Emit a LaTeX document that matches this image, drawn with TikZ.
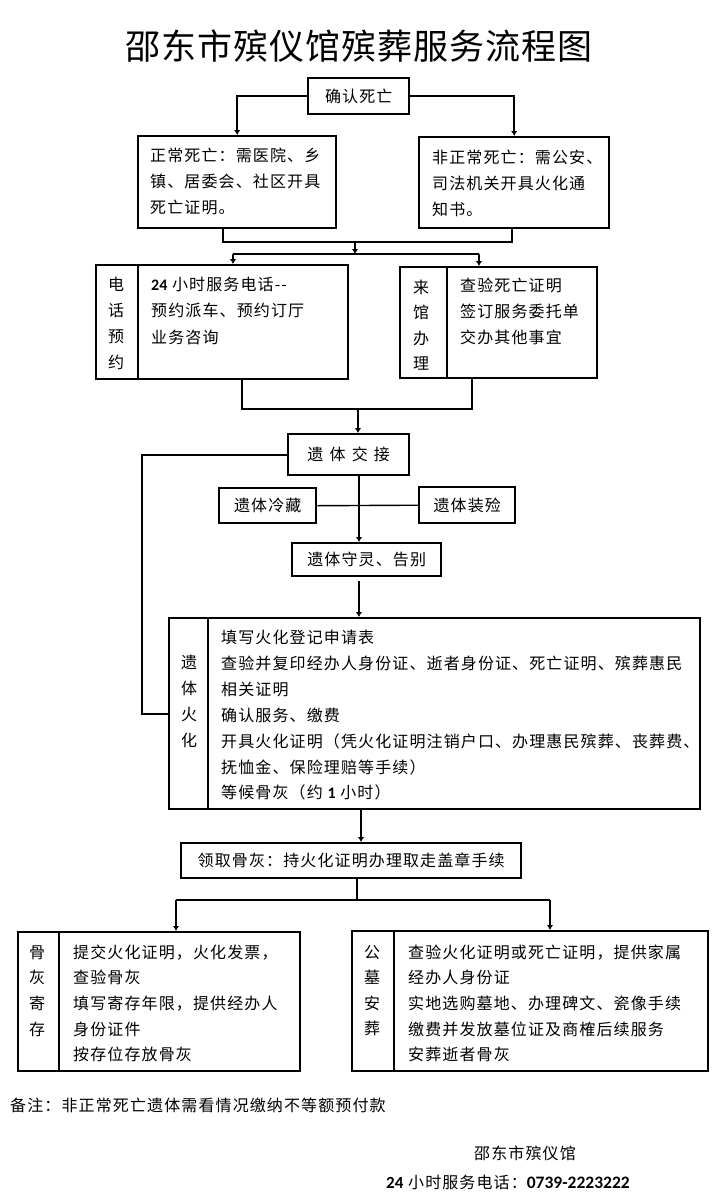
\documentclass[tikz,border=0pt]{standalone}
\usepackage{fontspec}
\setmainfont{Carlito}
\newfontfamily\cjk[LetterSpace=7]{Noto Sans CJK SC}
\newfontfamily\titlefont[LetterSpace=3]{Noto Sans CJK SC}
\newfontfamily\latin{Carlito}
\usetikzlibrary{arrows.meta}
\newcommand\linesat[6]{%
  \foreach \lntxt [count=\i from 0] in {#6}{%
    \node[txt,anchor=#2] (#1\i) at ({#3},{#4+\i*#5}) {\lntxt};}}
\tikzset{
  txt/.style={inner sep=0pt, font=\cjk\fontsize{16}{20}\selectfont, text height=14pt, text depth=2pt},
  box/.style={draw, line width=2.4pt, inner sep=0pt, anchor=north west, font=\cjk\fontsize{16}{20}\selectfont, text height=14pt, text depth=2pt},
  conn/.style={line width=2.2pt},
  thinconn/.style={line width=1.4pt},
  arr/.style={conn, -{Latex[length=5pt,width=6.5pt]}},
}
\begin{document}
\begin{tikzpicture}[x=1pt,y=-1pt]
\fill[white] (0,0) rectangle (722,1203);
\useasboundingbox (0,0) rectangle (722,1203);

% title
\node[inner sep=0pt, font=\titlefont\fontsize{35}{40}\selectfont, text height=30.8pt, text depth=4.2pt] (title) at (359,46) {邵东市殡仪馆殡葬服务流程图};

% boxes
\node[box, minimum width=101pt, minimum height=36pt] (confirm) at (307,77) {确认死亡};
\node[box, minimum width=198pt, minimum height=92pt] (normal) at (137,135) {};
\node[box, minimum width=190pt, minimum height=91pt] (abnormal) at (418,136) {};
\linesat{nt}{west}{150}{155}{26}{正常死亡：需医院、乡,镇、居委会、社区开具,死亡证明。}
\linesat{at}{west}{432}{157}{26}{非正常死亡：需公安、,司法机关开具火化通,知书。}

\node[box, minimum width=42pt, minimum height=114pt] (phoneL) at (95,264) {};
\node[box, minimum width=210pt, minimum height=114pt] (phoneR) at (137,264) {};
\linesat{pv}{center}{116}{284}{26}{电,话,预,约}
\linesat{pt}{west}{151}{284}{26.5}{{{\latin\bfseries 24} 小时服务电话-{}-},预约派车、预约订厅,业务咨询}

\node[box, minimum width=47pt, minimum height=111pt] (visitL) at (399,266) {};
\node[box, minimum width=150pt, minimum height=111pt] (visitR) at (446,266) {};
\linesat{vv}{center}{421}{287}{25.5}{来,馆,办,理}
\linesat{vt}{west}{460}{285}{26}{查验死亡证明,签订服务委托单,交办其他事宜}

\node[box, minimum width=121pt, minimum height=41pt] (handover) at (287,433) {遗\hspace{6.2pt}体\hspace{6.2pt}交\hspace{6.2pt}接};
\node[box, minimum width=97pt, minimum height=35pt] (cold) at (218,487) {遗体冷藏};
\node[box, minimum width=96pt, minimum height=36pt] (dress) at (418,486) {遗体装殓};
\node[box, minimum width=149pt, minimum height=33pt] (vigil) at (291,542) {遗体守灵、告别};

\node[box, minimum width=39pt, minimum height=191pt] (cremL) at (168,617) {};
\node[box, minimum width=492pt, minimum height=191pt] (cremR) at (207,617) {};
\linesat{cv}{center}{189}{662}{26}{遗,体,火,化}
\linesat{ct}{west}{221}{637.5}{25.9}{填写火化登记申请表,查验并复印经办人身份证、逝者身份证、死亡证明、殡葬惠民,相关证明,确认服务、缴费,开具火化证明（凭火化证明注销户口、办理惠民殡葬、丧葬费、,抚恤金、保险理赔等手续）,{等候骨灰（约 {\latin\bfseries 1} 小时）}}

\node[box, minimum width=340pt, minimum height=35pt] (collect) at (180,842) {领取骨灰：持火化证明办理取走盖章手续};

\node[box, minimum width=41pt, minimum height=139pt] (storeL) at (17,931) {};
\node[box, minimum width=241pt, minimum height=139pt] (storeR) at (58,931) {};
\linesat{sv}{center}{37}{952}{25.7}{骨,灰,寄,存}
\linesat{st}{west}{73}{952}{25.7}{提交火化证明，火化发票，,查验骨灰,填写寄存年限，提供经办人,身份证件,按存位存放骨灰}

\node[box, minimum width=42pt, minimum height=140pt] (cemL) at (351,930) {};
\node[box, minimum width=314pt, minimum height=140pt] (cemR) at (393,930) {};
\linesat{gv}{center}{372}{952}{25.5}{公,墓,安,葬}
\linesat{gt}{west}{408}{952}{25.7}{查验火化证明或死亡证明，提供家属,经办人身份证,实地选购墓地、办理碑文、瓷像手续,缴费并发放墓位证及商榷后续服务,安葬逝者骨灰}

% footer
\node[txt, anchor=west] (note) at (10,1105) {备注：非正常死亡遗体需看情况缴纳不等额预付款};
\node[txt, anchor=west] (org) at (474,1153) {邵东市殡仪馆};
\node[txt, anchor=west] (tel) at (386,1182) {{\latin\bfseries\fontsize{17}{20}\selectfont 24} 小时服务电话：{\latin\bfseries\fontsize{17.5}{20}\selectfont 0739-2223222}};

% connectors
\draw[arr] (confirm.west) -| (normal.north);
\draw[arr] (confirm.east) -| (abnormal.north);

\coordinate (jA) at (223,242);
\coordinate (jB) at (512,242);
\coordinate (jC) at (355,242);
\coordinate (jD) at (355,254);
\coordinate (jE) at (233,254);
\coordinate (jF) at (479,254);
\draw[conn] (normal.south -| jA) -- (jA) -- (jB) -- (abnormal.south -| jB);
\draw[arr] (jC) -- (jD);
\draw[conn] (jE) -- (jF);
\draw[arr] (jE) -- (phoneR.north -| jE);
\draw[arr] (jF) -- (visitR.north -| jF);

\coordinate (kA) at (242,409);
\coordinate (kB) at (472,409);
\coordinate (kC) at (358,409);
\draw[conn] (phoneR.south -| kA) -- (kA) -- (kB) -- (visitR.south -| kB);
\draw[arr] (kC) -- (handover.north -| kC);

\coordinate (cx) at (359,0);
\draw[arr] (handover.south -| cx) -- (vigil.north -| cx);
\draw[thinconn] (cold.east) -- (dress.west);

\coordinate (fb) at (142,0);
\draw[conn] (handover.west) -- (handover.west -| fb) |- (cremL.west);

\coordinate (g1) at (359,581);
\draw[arr] (g1) -- (cremR.north -| g1);

\coordinate (c1) at (361,0);
\draw[arr] (cremR.south -| c1) -- (collect.north -| c1);

\coordinate (b0) at (357,900);
\coordinate (bL) at (176,900);
\coordinate (bR) at (550,900);
\draw[conn] (collect.south -| b0) -- (b0);
\draw[conn] (bL) -- (bR);
\draw[arr] (bL) -- (storeR.north -| bL);
\draw[arr] (bR) -- (cemR.north -| bR);
\end{tikzpicture}
\end{document}
